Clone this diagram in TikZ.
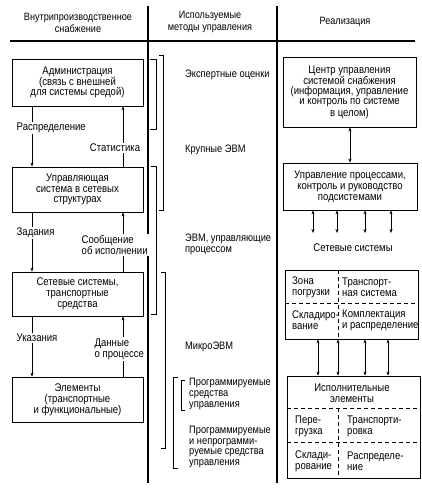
\documentclass[tikz,border=0pt]{standalone}
\usepackage{fontspec}
\setmainfont[FakeStretch=0.86]{Liberation Sans}
\usetikzlibrary{arrows.meta,calc}
\begin{document}
\begin{tikzpicture}[x=1pt,y=-1pt,
  txt/.style={font=\fontsize{11.1}{10.8}\selectfont, inner sep=0pt, align=center},
  mtxt/.style={font=\fontsize{10.8}{10.8}\selectfont, inner sep=0pt, align=left, anchor=west},
  hdr/.style={font=\fontsize{10.6}{11.8}\selectfont, inner sep=0pt, align=center},
  lbl/.style={txt, fill=white, inner sep=1.5pt},
  box/.style={draw, line width=0.8pt, inner sep=0pt, txt},
  arr/.style={line width=0.6pt, -{Stealth[length=4pt,width=3pt]}},
  darr/.style={line width=0.6pt, {Stealth[length=4pt,width=3pt]}-{Stealth[length=4pt,width=3pt]}},
  dsh/.style={line width=0.7pt, dash pattern=on 4pt off 3pt},
  brk/.style={line width=0.8pt},
  rulel/.style={line width=1.2pt}]
\useasboundingbox (0,0) rectangle (422,488);

% rules
\draw[rulel] (10,41) -- (415,41);
\draw[rulel] (148,6) -- (148,483);
\draw[rulel] (277,6) -- (277,483);

% headers
\node[hdr] (h1) at (78,23) {Внутрипроизводственное\\снабжение};
\node[hdr] (h2) at (210,22) {Используемые\\методы управления};
\node[hdr] (h3) at (345,22) {Реализация};

% left boxes
\node[box, minimum width=131pt, minimum height=47pt] (b1) at (77.5,82.5) {Администрация\\(связь с внешней\\для системы средой)};
\node[box, minimum width=131pt, minimum height=45pt] (b2) at (77.5,189.5) {Управляющая\\система в сетевых\\структурах};
\node[box, minimum width=131pt, minimum height=44pt] (b3) at (77.5,294) {Сетевые системы,\\транспортные\\средства};
\node[box, minimum width=131pt, minimum height=45pt] (b4) at (77.5,399.5) {Элементы\\(транспортные\\и функциональные)};

\coordinate (xl) at (32,0);
\coordinate (xr) at (123,0);
\draw[arr] (b1.south -| xl) -- (b2.north -| xl);
\draw[arr] (b2.north -| xr) -- (b1.south -| xr);
\draw[arr] (b2.south -| xl) -- (b3.north -| xl);
\draw[arr] (b3.north -| xr) -- (b2.south -| xr);
\draw[arr] (b3.south -| xl) -- (b4.north -| xl);
\draw[arr] (b4.north -| xr) -- (b3.south -| xr);

\node[lbl, anchor=west] (l1) at (15,128) {Распределение};
\node[lbl] (l2) at (115,148) {Статистика};
\node[lbl, anchor=west] (l3) at (15,233) {Задания};
\node[lbl, anchor=west, align=left] (l4) at (80,245) {Сообщение\\об исполнении};
\node[lbl, anchor=west] (l5) at (15,338) {Указания};
\node[lbl, anchor=west, align=left] (l6) at (93,349) {Данные\\о процессе};

% brackets
\draw[brk] (150,59) -- (156,59) -- (156,129) -- (150,129);
\draw[brk] (159,55) -- (163,55) -- (163,210) -- (159,210);
\draw[brk] (151,166) -- (156,166) -- (156,314) -- (151,314);
\draw[brk] (161,272) -- (165,272) -- (165,448) -- (161,448);
\draw[brk] (178,377) -- (173,377) -- (173,468) -- (178,468);
\draw[brk] (185,380) -- (181,380) -- (181,410) -- (185,410);

% middle texts
\node[mtxt] (m1) at (185,75) {Экспертные оценки};
\node[mtxt] (m2) at (185,150) {Крупные ЭВМ};
\node[mtxt] (m3) at (185,244) {ЭВМ, управляющие\\процессом};
\node[mtxt] (m4) at (185,347) {МикроЭВМ};
\node[mtxt] (m5) at (189,394) {Программируемые\\средства\\управления};
\node[mtxt] (m6) at (189,447) {Программируемые\\и непрограмми-\\руемые средства\\управления};

% right column
\node[box, minimum width=133pt, minimum height=70pt, font=\fontsize{11.1}{10.2}\selectfont] (c1) at (349.5,92) {Центр управления\\системой снабжения\\(информация, управление\\и контроль по системе\\в целом)};
\node[box, minimum width=134pt, minimum height=47pt] (c2) at (350,186.5) {Управление процессами,\\контроль и руководство\\подсистемами};
\draw[darr] (c1.south -| c2.north) -- (c2.north);

\coordinate (e1) at (313,233);
\coordinate (e2) at (337,233);
\coordinate (e3) at (365,233);
\coordinate (e4) at (391,233);
\draw[darr] (c2.south -| e1) -- (e1);
\draw[darr] (c2.south -| e2) -- (e2);
\draw[darr] (c2.south -| e3) -- (e3);
\draw[darr] (c2.south -| e4) -- (e4);

\node[txt] (ss) at (353,248) {Сетевые системы};

\node[box, minimum width=133pt, minimum height=69pt] (n1) at (351.5,304.5) {};
\draw[dsh] (285,303) -- (418,303);
\draw[dsh] (338,270) -- (338,339);
\node[txt, anchor=west, align=left] (n11) at (292,287.5) {Зона\\погрузки};
\node[txt, anchor=west, align=left] (n12) at (342,287.5) {Транспорт-\\ная система};
\node[txt, anchor=west, align=left] (n21) at (292,320.5) {Складиро-\\вание};
\node[txt, anchor=west, align=left] (n22) at (342,320.5) {Комплектация\\и распределение};

\node[box, minimum width=133pt, minimum height=102pt] (n2) at (353.5,427) {};
\node[txt] (n2t) at (352,393.5) {Исполнительные\\элементы};
\draw[dsh] (287,408) -- (420,408);
\draw[dsh] (287,442) -- (420,442);
\draw[dsh] (338,408) -- (338,478);
\node[txt, anchor=west, align=left] (p11) at (295,426) {Пере-\\грузка};
\node[txt, anchor=west, align=left] (p12) at (347,426) {Транспорти-\\ровка};
\node[txt, anchor=west, align=left] (p21) at (295,461) {Склади-\\рование};
\node[txt, anchor=west, align=left] (p22) at (347,461) {Распределе-\\ние};

\coordinate (f1) at (318,0);
\coordinate (f2) at (338,0);
\coordinate (f3) at (365,0);
\coordinate (f4) at (388,0);
\draw[darr] (n1.south -| f1) -- (n2.north -| f1);
\draw[darr] (n1.south -| f2) -- (n2.north -| f2);
\draw[darr] (n1.south -| f3) -- (n2.north -| f3);
\draw[darr] (n1.south -| f4) -- (n2.north -| f4);
\end{tikzpicture}
\end{document}
